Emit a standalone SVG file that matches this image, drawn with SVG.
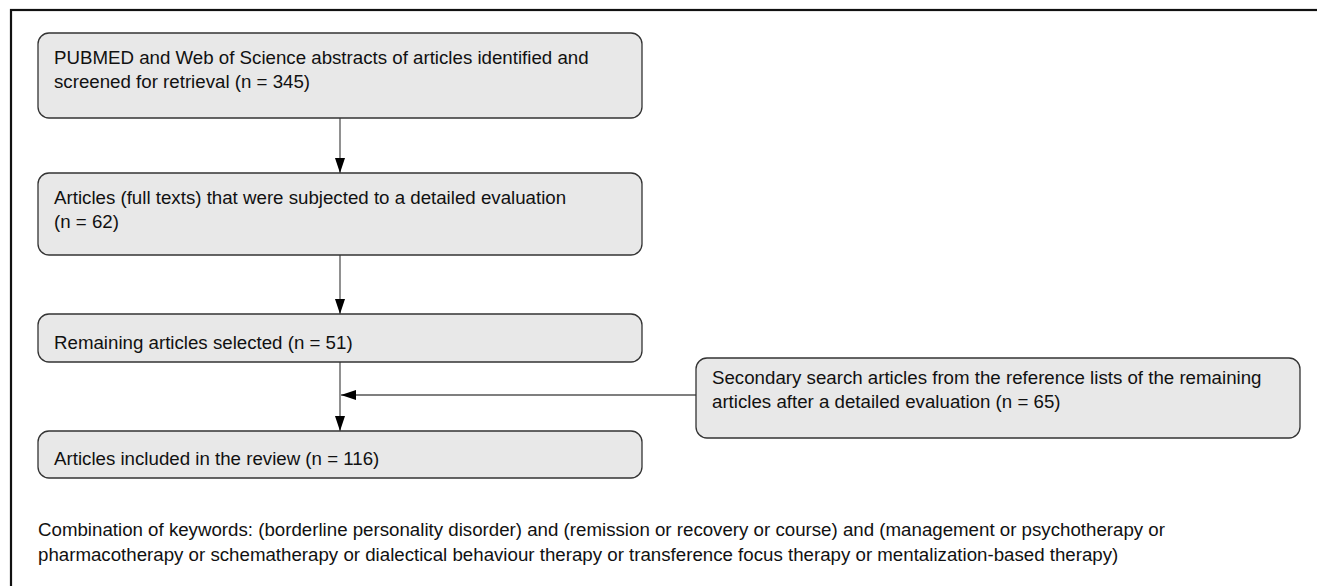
<svg xmlns="http://www.w3.org/2000/svg" width="1317" height="586" viewBox="0 0 1317 586">
<defs>
<marker id="ah" viewBox="0 0 15 10" refX="15" refY="5" markerWidth="15" markerHeight="10" markerUnits="userSpaceOnUse" orient="auto">
<path d="M0,0 L15,5 L0,10 z" fill="#000"/>
</marker>
<style>
.box{fill:#e8e8e8;stroke:#333;stroke-width:1.3}
.t{font-family:"Liberation Sans",Arial,sans-serif;font-size:18.7px;fill:#111}
.c{stroke:#555;stroke-width:1.3;fill:none}
</style>
</defs>
<rect width="1317" height="586" fill="#fff"/>
<rect x="11" y="10" width="1320" height="600" fill="none" stroke="#111" stroke-width="2.2"/>
<g id="connectors">
<line class="c" x1="340" y1="118" x2="340" y2="173" marker-end="url(#ah)"/>
<line class="c" x1="340" y1="255" x2="340" y2="314" marker-end="url(#ah)"/>
<line class="c" x1="340" y1="362" x2="340" y2="431" marker-end="url(#ah)"/>
<line class="c" x1="696" y1="395" x2="341" y2="395" marker-end="url(#ah)"/>
</g>
<g id="n1">
<rect class="box" x="38" y="33" width="604" height="85" rx="11"/>
<text class="t" x="54" y="64">PUBMED and Web of Science abstracts of articles identified and</text>
<text class="t" x="54" y="88">screened for retrieval (n = 345)</text>
</g>
<g id="n2">
<rect class="box" x="38" y="173" width="604" height="82" rx="11"/>
<text class="t" x="54" y="204">Articles (full texts) that were subjected to a detailed evaluation</text>
<text class="t" x="54" y="228">(n = 62)</text>
</g>
<g id="n3">
<rect class="box" x="38" y="314" width="604" height="48" rx="11"/>
<text class="t" x="54" y="349">Remaining articles selected (n = 51)</text>
</g>
<g id="n4">
<rect class="box" x="38" y="431" width="604" height="47" rx="11"/>
<text class="t" x="54" y="465">Articles included in the review (n = 116)</text>
</g>
<g id="n5">
<rect class="box" x="696" y="358" width="604" height="80" rx="11"/>
<text class="t" x="712" y="384">Secondary search articles from the reference lists of the remaining</text>
<text class="t" x="712" y="408">articles after a detailed evaluation (n = 65)</text>
</g>
<g id="keywords">
<text class="t" x="38" y="536">Combination of keywords: (borderline personality disorder) and (remission or recovery or course) and (management or psychotherapy or</text>
<text class="t" x="38" y="561">pharmacotherapy or schematherapy or dialectical behaviour therapy or transference focus therapy or mentalization-based therapy)</text>
</g>
</svg>
